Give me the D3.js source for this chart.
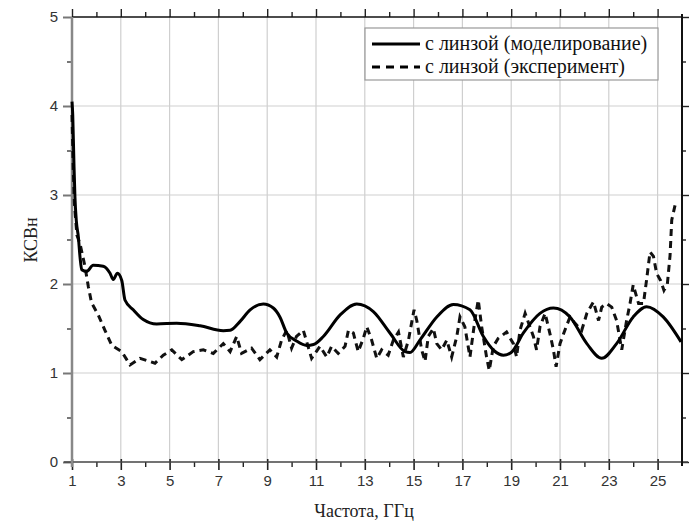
<!DOCTYPE html>
<html>
<head>
<meta charset="utf-8">
<script src="https://cdn.jsdelivr.net/npm/d3@7"></script>
<style>
  html, body { margin: 0; padding: 0; background: #fff; }
  svg { display: block; }
</style>
</head>
<body>
<svg id="chart" width="698" height="523"></svg>
<script>
// ---- data ----
const xTicks = [1, 3, 5, 7, 9, 11, 13, 15, 17, 19, 21, 23, 25];
const yTicks = [0, 1, 2, 3, 4, 5];
const seriesNames = ["с линзой (моделирование)", "с линзой (эксперимент)"];

const simFreq = [1.0, 1.03, 1.08, 1.12, 1.18, 1.26, 1.33, 1.4, 1.6, 1.87, 2.28, 2.56, 2.69, 2.86, 3.04, 3.17, 3.51, 3.92, 4.47, 5.29, 6.25, 7.2, 7.48, 7.89, 8.3, 8.84, 9.25, 9.52, 9.8, 10.2, 10.62, 10.9, 11.3, 11.98, 12.67, 13.35, 14.03, 14.65, 14.85, 15.26, 15.95, 16.63, 17.31, 17.86, 18.3, 18.68, 19.0, 19.5, 20.18, 20.73, 21.41, 22.1, 22.71, 23.32, 24.0, 24.55, 25.23, 25.96];
const simVSWR = [4.05, 3.9, 3.35, 2.98, 2.7, 2.53, 2.3, 2.16, 2.14, 2.21, 2.2, 2.12, 2.05, 2.12, 2.04, 1.82, 1.71, 1.6, 1.55, 1.56, 1.53, 1.475, 1.48, 1.58, 1.71, 1.775, 1.73, 1.63, 1.45, 1.36, 1.31, 1.32, 1.41, 1.65, 1.775, 1.69, 1.45, 1.24, 1.23, 1.37, 1.63, 1.77, 1.71, 1.41, 1.25, 1.2, 1.23, 1.45, 1.67, 1.73, 1.63, 1.33, 1.165, 1.33, 1.63, 1.745, 1.63, 1.35];

const expFreq = [1.0, 1.05, 1.1, 1.2, 1.33, 1.45, 1.53, 1.67, 1.8, 2.08, 2.35, 2.63, 3.04, 3.38, 3.79, 4.4, 4.74, 5.09, 5.5, 5.97, 6.38, 6.79, 7.2, 7.48, 7.75, 7.95, 8.36, 8.7, 9.11, 9.39, 9.59, 9.8, 10.0, 10.2, 10.48, 10.82, 11.16, 11.44, 11.64, 11.91, 12.19, 12.33, 12.53, 12.73, 12.94, 13.08, 13.28, 13.49, 13.69, 13.96, 14.17, 14.38, 14.58, 14.79, 14.93, 15.02, 15.13, 15.33, 15.47, 15.6, 15.81, 15.95, 16.15, 16.36, 16.56, 16.77, 16.9, 17.1, 17.31, 17.52, 17.65, 17.79, 17.99, 18.1, 18.27, 18.47, 18.81, 19.09, 19.22, 19.36, 19.57, 19.91, 20.04, 20.18, 20.39, 20.59, 20.73, 20.84, 21.0, 21.2, 21.41, 21.61, 21.89, 22.1, 22.37, 22.58, 22.71, 22.91, 23.12, 23.32, 23.53, 23.73, 23.87, 24.0, 24.22, 24.42, 24.55, 24.69, 24.83, 24.96, 25.12, 25.26, 25.4, 25.51, 25.58, 25.72];
const expVSWR = [3.9, 3.3, 2.9, 2.55, 2.45, 2.3, 2.2, 1.97, 1.79, 1.65, 1.48, 1.31, 1.24, 1.09, 1.165, 1.11, 1.2, 1.26, 1.15, 1.24, 1.26, 1.22, 1.33, 1.24, 1.41, 1.22, 1.28, 1.15, 1.26, 1.18, 1.37, 1.48, 1.28, 1.41, 1.48, 1.165, 1.3, 1.18, 1.3, 1.22, 1.3, 1.48, 1.45, 1.24, 1.39, 1.52, 1.37, 1.165, 1.26, 1.2, 1.37, 1.46, 1.18, 1.37, 1.58, 1.71, 1.59, 1.26, 1.13, 1.41, 1.5, 1.33, 1.26, 1.37, 1.18, 1.41, 1.63, 1.52, 1.18, 1.61, 1.82, 1.52, 1.18, 1.03, 1.3, 1.39, 1.46, 1.33, 1.18, 1.48, 1.67, 1.41, 1.26, 1.52, 1.67, 1.44, 1.26, 1.07, 1.33, 1.48, 1.63, 1.56, 1.48, 1.67, 1.8, 1.59, 1.74, 1.78, 1.74, 1.59, 1.26, 1.59, 1.78, 1.99, 1.78, 1.78, 2.05, 2.36, 2.31, 2.12, 2.04, 1.93, 2.0, 2.32, 2.72, 2.89];

// ---- layout ----
const svg = d3.select("#chart");
const pL = 72, pR = 682, pT = 17, pB = 462;
const x = d3.scaleLinear().domain([1, 26]).range([pL, pR]);
const y = d3.scaleLinear().domain([0, 5]).range([pB, pT]);
const serif = "'Liberation Serif', 'Times New Roman', serif";
const sans = "'Liberation Sans', Arial, sans-serif";

// grid
const grid = svg.append("g");
grid.selectAll("line.v").data(xTicks.slice(1)).enter().append("line")
  .attr("x1", d => x(d)).attr("x2", d => x(d))
  .attr("y1", pT).attr("y2", pB)
  .attr("stroke", "#cfcfcf").attr("stroke-width", 1.2);
grid.selectAll("line.h").data(yTicks.slice(1, -1)).enter().append("line")
  .attr("x1", pL).attr("x2", pR)
  .attr("y1", d => y(d)).attr("y2", d => y(d))
  .attr("stroke", "#cfcfcf").attr("stroke-width", 1.2);

// axes
const xMinor = d3.range(2, 26, 2);
const yMinor = d3.range(0.5, 5, 1);
const yAll = d3.range(0, 5.01, 0.5);

const bottomAxis = svg.append("g").attr("transform", `translate(0,${pB})`)
  .call(d3.axisBottom(x).tickValues(xTicks).tickSize(8).tickFormat(d3.format("d")));
bottomAxis.select(".domain").remove();
bottomAxis.selectAll(".tick line").attr("y1", -3).attr("stroke", "#222").attr("stroke-width", 1.6);
bottomAxis.selectAll(".tick text").attr("dy", "0.9em").attr("y", 10)
  .style("font-family", sans).style("font-size", "15px").attr("fill", "#333");
svg.append("g").attr("transform", `translate(0,${pB})`)
  .call(d3.axisBottom(x).tickValues(xMinor).tickSize(5).tickFormat(""))
  .call(g => g.select(".domain").remove())
  .selectAll(".tick line").attr("stroke", "#222").attr("stroke-width", 1.4);

const topAxis = svg.append("g").attr("transform", `translate(0,${pT})`)
  .call(d3.axisTop(x).tickValues(xTicks).tickSize(8).tickFormat(""));
topAxis.select(".domain").remove();
topAxis.selectAll(".tick line").attr("stroke", "#222").attr("stroke-width", 1.4);
svg.append("g").attr("transform", `translate(0,${pT})`)
  .call(d3.axisTop(x).tickValues(xMinor).tickSize(5).tickFormat(""))
  .call(g => g.select(".domain").remove())
  .selectAll(".tick line").attr("stroke", "#222").attr("stroke-width", 1.4);

const leftAxis = svg.append("g").attr("transform", `translate(${pL},0)`)
  .call(d3.axisLeft(y).tickValues(yTicks).tickSize(9).tickFormat(d3.format("d")));
leftAxis.select(".domain").remove();
leftAxis.selectAll(".tick line").attr("stroke", "#777").attr("stroke-width", 2);
leftAxis.selectAll(".tick text").attr("x", -14)
  .style("font-family", sans).style("font-size", "15px").attr("fill", "#333");
svg.append("g").attr("transform", `translate(${pL},0)`)
  .call(d3.axisLeft(y).tickValues(yMinor).tickSize(5).tickFormat(""))
  .call(g => g.select(".domain").remove())
  .selectAll(".tick line").attr("stroke", "#555").attr("stroke-width", 1.6);

const rightAxis = svg.append("g").attr("transform", `translate(${pR},0)`)
  .call(d3.axisRight(y).tickValues(yAll).tickSize(5).tickFormat(""));
rightAxis.select(".domain").remove();
rightAxis.selectAll(".tick line").attr("x2", d => (d % 1 === 0 ? 7 : 4)).attr("stroke", "#222").attr("stroke-width", 1.4);

// spines
svg.append("line").attr("x1", pL).attr("x2", pR).attr("y1", pT).attr("y2", pT)
  .attr("stroke", "#111").attr("stroke-width", 1.6);
svg.append("line").attr("x1", pL - 8).attr("x2", pR + 6).attr("y1", pB).attr("y2", pB)
  .attr("stroke", "#444").attr("stroke-width", 1.6);
svg.append("line").attr("x1", pR).attr("x2", pR).attr("y1", pT - 3).attr("y2", pB + 4)
  .attr("stroke", "#111").attr("stroke-width", 2);
svg.append("line").attr("x1", pL).attr("x2", pL).attr("y1", pT).attr("y2", pB + 5)
  .attr("stroke", "#888").attr("stroke-width", 2.5);

// lines
const sim = simFreq.map((f, i) => [f, simVSWR[i]]);
const exp = expFreq.map((f, i) => [f, expVSWR[i]]);
const lineSmooth = d3.line().x(d => x(d[0])).y(d => y(d[1])).curve(d3.curveMonotoneX);
const lineLin = d3.line().x(d => x(d[0])).y(d => y(d[1]));

svg.append("path").datum(exp).attr("d", lineLin)
  .attr("fill", "none").attr("stroke", "#111").attr("stroke-width", 3)
  .attr("stroke-dasharray", "7,5");
svg.append("path").datum(sim).attr("d", lineSmooth)
  .attr("fill", "none").attr("stroke", "#000").attr("stroke-width", 3);

// legend
const lg = svg.append("g");
lg.append("rect").attr("x", 365).attr("y", 28).attr("width", 293).attr("height", 52)
  .attr("fill", "#fff").attr("stroke", "#999").attr("stroke-width", 1.2);
const legendRows = [
  { name: seriesNames[0], dash: null, yy: 44 },
  { name: seriesNames[1], dash: "8,6", yy: 67 }
];
legendRows.forEach(r => {
  lg.append("line").attr("x1", 372).attr("x2", 420).attr("y1", r.yy).attr("y2", r.yy)
    .attr("stroke", "#000").attr("stroke-width", 3)
    .attr("stroke-dasharray", r.dash);
  lg.append("text").attr("x", 425).attr("y", r.yy + 6).text(r.name)
    .style("font-family", serif).style("font-size", "20px").attr("fill", "#111");
});

// axis titles
svg.append("text").attr("transform", "translate(37,240) rotate(-90)")
  .attr("text-anchor", "middle").text("КСВн")
  .style("font-family", serif).style("font-size", "18px").attr("fill", "#222");
svg.append("text").attr("x", 364).attr("y", 517).attr("text-anchor", "middle").text("Частота, ГГц")
  .style("font-family", serif).style("font-size", "18px").attr("fill", "#222");
</script>
</body>
</html>
